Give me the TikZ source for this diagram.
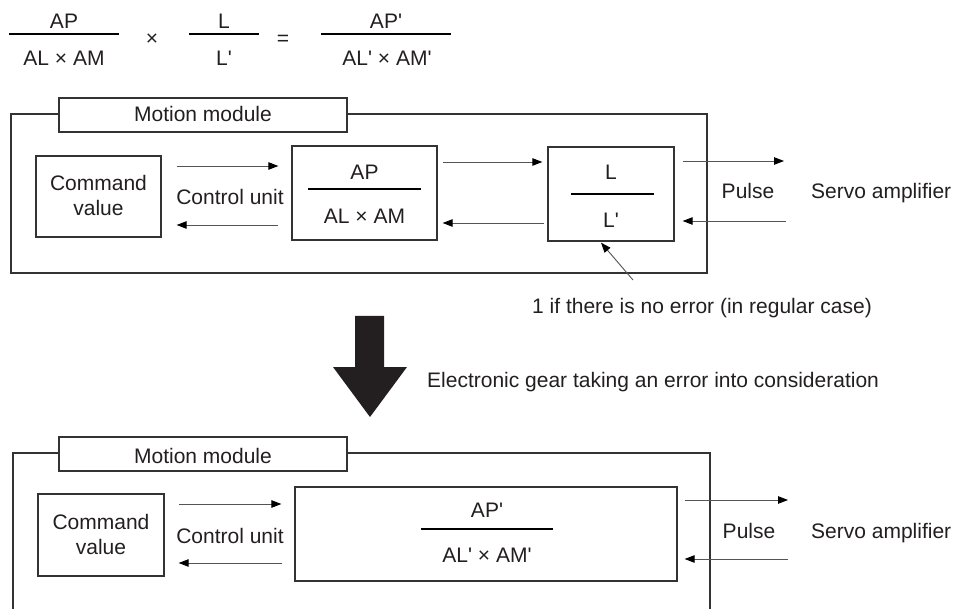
\documentclass[tikz,border=0pt]{standalone}
\usepackage{fontspec}
\setmainfont{Liberation Sans}[Ligatures=TeXOff]
\usetikzlibrary{arrows.meta}
\definecolor{ink}{HTML}{231F20}
\definecolor{boxline}{HTML}{333333}
\definecolor{arrline}{HTML}{555555}
\tikzset{
  txt/.style={font=\fontsize{21}{25}\selectfont, text=ink, inner sep=0pt, text height=15pt, text depth=0pt},
  mlt/.style={font=\fontsize{21}{25}\selectfont, text=ink, inner sep=0pt, align=center},
  boxnode/.style={draw=boxline, line width=1.3pt, fill=white, inner sep=0pt},
  fracline/.style={draw=black, line width=2pt},
  arr/.style={draw=arrline, line width=0.9pt, -{Triangle[length=10pt,width=7.5pt,color=black]}},
  bigarrow/.style={fill=ink, draw=none}
}
\begin{document}
\begin{tikzpicture}[x=1pt,y=-1pt]
\useasboundingbox (0,0) rectangle (955,609);

% ---- top formula ----
\node[txt] (fap) at (64,21.5) {AP};
\node[txt] (falam) at (64,58.5) {AL × AM};
\draw[fracline] (9,34) -- (119,34);
\node[txt] (ftimes) at (152,38) {×};
\node[txt] (fl) at (224,21.5) {L};
\node[txt] (flp) at (224,58.5) {L'};
\draw[fracline] (189,34) -- (259,34);
\node[txt] (feq) at (283,38) {=};
\node[txt] (fapp) at (386,21.5) {AP'};
\node[txt] (falamp) at (387,58.5) {AL' × AM'};
\draw[fracline] (321,34) -- (451,34);

% ---- upper module ----
\node[boxnode, minimum width=696pt, minimum height=159pt] (mod1) at (359,193.5) {};
\node[boxnode, minimum width=288pt, minimum height=34pt] (title1) at (203,115) {};
\node[txt] (title1t) at (203,114.5) {Motion module};
\node[boxnode, minimum width=125pt, minimum height=81pt] (cmd1) at (98.5,196.5) {};
\node[mlt] (cmd1t) at (98.5,195.5) {Command\\value};
\node[txt] (ctrl1) at (230,197) {Control unit};
\node[boxnode, minimum width=145pt, minimum height=94pt] (ap1) at (364.5,193) {};
\node[txt] (ap1n) at (364.5,172.5) {AP};
\node[txt] (ap1d) at (364.5,216.5) {AL × AM};
\draw[fracline] (308,189) -- (421,189);
\node[boxnode, minimum width=126pt, minimum height=94pt] (l1) at (611,194) {};
\node[txt] (l1n) at (611,172.5) {L};
\node[txt] (l1d) at (611,220) {L'};
\draw[fracline] (571,194) -- (654,194);
\node[txt] (pulse1) at (748,191.5) {Pulse};
\node[txt, anchor=west] (servo1) at (811,191.5) {Servo amplifier};
\node[txt] (note1) at (702,305.5) {1 if there is no error (in regular case)};
\coordinate (note1start) at (633,280);

\draw[arr] ([xshift=15pt]cmd1.east |- 0,166) -- ([xshift=-13pt]ap1.west |- 0,166);
\draw[arr] ([xshift=-13pt]ap1.west |- 0,225) -- ([xshift=15pt]cmd1.east |- 0,225);
\draw[arr] ([xshift=5pt]ap1.east |- 0,162) -- ([xshift=-5pt]l1.west |- 0,162);
\draw[arr] ([xshift=-3pt]l1.west |- 0,223) -- ([xshift=5pt]ap1.east |- 0,223);
\draw[arr] ([xshift=8pt]l1.east |- 0,161) -- ([xshift=-27pt]servo1.west |- 0,161);
\draw[arr] ([xshift=-25pt]servo1.west |- 0,221) -- ([xshift=8pt]l1.east |- 0,221);
\draw[arr] (note1start) -- ([xshift=-10pt,yshift=-1pt]l1.south);

% ---- big arrow ----
\fill[bigarrow] (355,316) -- (384,316) -- (384,367) -- (407,367) -- (370,417) -- (333,367) -- (355,367) -- cycle;
\node[txt, anchor=west] (egear) at (427,380) {Electronic gear taking an error into consideration};

% ---- lower module ----
\draw[draw=boxline, line width=1.3pt] (13,615) -- (13,453) -- (710,453) -- (710,615);
\node[boxnode, minimum width=288pt, minimum height=34pt] (title2) at (203,454) {};
\node[txt] (title2t) at (203,455.5) {Motion module};
\node[boxnode, minimum width=126pt, minimum height=82pt] (cmd2) at (101,535) {};
\node[mlt] (cmd2t) at (101,534) {Command\\value};
\node[txt] (ctrl2) at (230,535.5) {Control unit};
\node[boxnode, minimum width=382pt, minimum height=94pt] (ap2) at (486,534) {};
\node[txt] (ap2n) at (487,510) {AP'};
\node[txt] (ap2d) at (487,555) {AL' × AM'};
\draw[fracline] (421,529) -- (553,529);
\node[txt] (pulse2) at (749,530.5) {Pulse};
\node[txt, anchor=west] (servo2) at (811,530.5) {Servo amplifier};

\draw[arr] ([xshift=14pt]cmd2.east |- 0,504) -- ([xshift=-13pt]ap2.west |- 0,504);
\draw[arr] ([xshift=-12pt]ap2.west |- 0,563) -- ([xshift=14pt]cmd2.east |- 0,563);
\draw[arr] ([xshift=7pt]ap2.east |- 0,500) -- ([xshift=-23pt]servo2.west |- 0,500);
\draw[arr] ([xshift=-23pt]servo2.west |- 0,559) -- ([xshift=7pt]ap2.east |- 0,559);
\end{tikzpicture}
\end{document}
